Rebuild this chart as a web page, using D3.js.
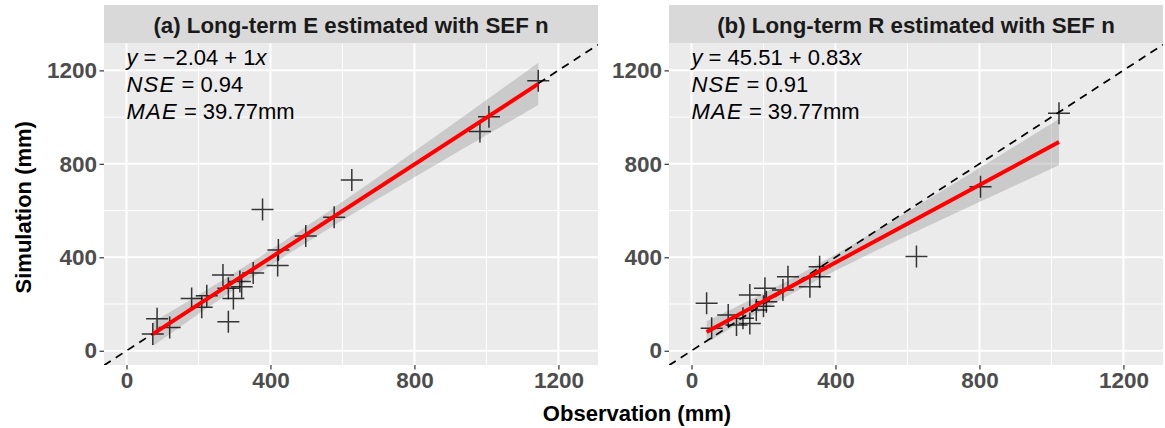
<!DOCTYPE html>
<html>
<head>
<meta charset="utf-8">
<script src="https://cdn.jsdelivr.net/npm/d3@7"></script>
<style>
  html, body { margin: 0; padding: 0; background: #fff; }
  svg { display: block; font-family: "Liberation Sans", Arial, sans-serif; }
</style>
</head>
<body>
<svg id="chart" width="1165" height="428"></svg>
<script>
// Panel titles
const panelTitles = [
  "(a) Long-term E estimated with SEF n",
  "(b) Long-term R estimated with SEF n"
];

// Panel (a): long-term E, observed vs simulated (mm)
const obsA = [73, 85, 120, 181, 209, 223, 268, 283, 297, 283, 320, 315, 352, 378, 420, 422, 498, 577, 626, 982, 1007, 1144];
const simA = [72, 137, 100, 224, 186, 235, 324, 267, 224, 124, 274, 296, 333, 605, 365, 431, 491, 571, 731, 938, 1002, 1156];

// Panel (b): long-term R, observed vs simulated (mm)
const obsB = [42, 56, 102, 125, 143, 162, 162, 180, 204, 208, 200, 254, 268, 329, 356, 356, 625, 803, 1021];
const simB = [203, 96, 153, 110, 139, 239, 117, 174, 267, 210, 190, 260, 317, 274, 317, 360, 403, 702, 1017];

// Fitted lines and goodness-of-fit statistics
const intercepts = [-2.04, 45.51];
const slopes = [1, 0.83];
const nseValues = ["0.94", "0.91"];
const maeValues = ["39.77", "39.77"];

// Axis ticks
const majorTicks = [0, 400, 800, 1200];
const minorTicks = [200, 600, 1000];

const svg = d3.select("#chart");

const panelW = 494;
const panelTop = 43.5, panelBottom = 365, stripTop = 5;
const lefts = [104, 669];
const xDomain = [-62.5, 1310];
const yDomain = [-61, 1315];
const FONT = "Liberation Sans, Arial, sans-serif";

const y = d3.scaleLinear().domain(yDomain).range([panelBottom, panelTop]);

function tQuantile975(df) {
  const z = 1.959964;
  return z + (z ** 3 + z) / (4 * df) + (5 * z ** 5 + 16 * z ** 3 + 3 * z) / (96 * df * df);
}

// 95% confidence band of the mean response around the fitted line
function confBand(obs, sim, b0, b1) {
  const n = obs.length;
  const xbar = d3.mean(obs);
  const sxx = d3.sum(obs, v => (v - xbar) ** 2);
  const sse = d3.sum(obs, (v, i) => (sim[i] - (b0 + b1 * v)) ** 2);
  const s = Math.sqrt(sse / (n - 2));
  const t = tQuantile975(n - 2);
  const [lo, hi] = d3.extent(obs);
  return d3.range(0, 81).map(k => {
    const xv = lo + (hi - lo) * k / 80;
    const fit = b0 + b1 * xv;
    const se = s * Math.sqrt(1 / n + (xv - xbar) ** 2 / sxx);
    return { x: xv, lo: fit - t * se, hi: fit + t * se };
  });
}

// math-style label built from [text, italic, letterSpacing] pieces
function mathText(parent, x0, y0, parts) {
  const t = parent.append("text").attr("x", x0).attr("y", y0)
    .attr("xml:space", "preserve").style("white-space", "pre");
  parts.forEach(([s, it, ls]) => {
    const sp = t.append("tspan").text(s);
    if (it) sp.attr("font-style", "italic");
    if (ls) sp.attr("letter-spacing", ls);
  });
  return t;
}

const panels = [
  { obs: obsA, sim: simA },
  { obs: obsB, sim: simB }
];

panels.forEach((p, i) => {
  const left = lefts[i];
  const x = d3.scaleLinear().domain(xDomain).range([left, left + panelW]);
  const g = svg.append("g");
  const clipId = "clip" + i;

  svg.append("clipPath").attr("id", clipId)
    .append("rect").attr("x", left).attr("y", panelTop)
    .attr("width", panelW).attr("height", panelBottom - panelTop);

  // strip
  g.append("rect").attr("x", left).attr("y", stripTop)
    .attr("width", panelW).attr("height", panelTop - stripTop)
    .attr("fill", "#D9D9D9");
  g.append("text")
    .attr("x", left + panelW / 2).attr("y", 32.5)
    .attr("text-anchor", "middle")
    .attr("font-size", 22.3).attr("font-weight", "bold")
    .attr("fill", "#1A1A1A")
    .text(panelTitles[i]);

  // panel background
  g.append("rect").attr("x", left).attr("y", panelTop)
    .attr("width", panelW).attr("height", panelBottom - panelTop)
    .attr("fill", "#EBEBEB");

  // grid
  const grid = g.append("g").attr("stroke", "#fff");
  minorTicks.forEach(v => {
    grid.append("line").attr("x1", x(v)).attr("x2", x(v))
      .attr("y1", panelTop).attr("y2", panelBottom).attr("stroke-width", 1);
    grid.append("line").attr("y1", y(v)).attr("y2", y(v))
      .attr("x1", left).attr("x2", left + panelW).attr("stroke-width", 1);
  });
  majorTicks.forEach(v => {
    grid.append("line").attr("x1", x(v)).attr("x2", x(v))
      .attr("y1", panelTop).attr("y2", panelBottom).attr("stroke-width", 2);
    grid.append("line").attr("y1", y(v)).attr("y2", y(v))
      .attr("x1", left).attr("x2", left + panelW).attr("stroke-width", 2);
  });

  const plot = g.append("g").attr("clip-path", `url(#${clipId})`);

  // confidence band of the fitted line
  const b0 = intercepts[i], b1 = slopes[i];
  const band = confBand(p.obs, p.sim, b0, b1);
  plot.append("path")
    .datum(band)
    .attr("d", d3.area().x(d => x(d.x)).y0(d => y(d.lo)).y1(d => y(d.hi)))
    .attr("fill", "#999999").attr("fill-opacity", 0.4);

  // observations as crosses
  const arm = 11;
  const pts = plot.append("g").attr("stroke", "#000").attr("stroke-width", 1.5)
    .attr("stroke-opacity", 0.78);
  p.obs.forEach((ov, k) => {
    const cx = x(ov), cy = y(p.sim[k]);
    pts.append("path")
      .attr("d", `M${cx - arm},${cy}H${cx + arm}M${cx},${cy - arm}V${cy + arm}`);
  });

  // 1:1 line
  plot.append("line")
    .attr("x1", x(xDomain[0])).attr("y1", y(xDomain[0]))
    .attr("x2", x(xDomain[1])).attr("y2", y(xDomain[1]))
    .attr("stroke", "#000").attr("stroke-width", 1.7)
    .attr("stroke-dasharray", "8,6");

  // fitted regression line
  const [xlo, xhi] = d3.extent(p.obs);
  plot.append("line")
    .attr("x1", x(xlo)).attr("y1", y(b0 + b1 * xlo))
    .attr("x2", x(xhi)).attr("y2", y(b0 + b1 * xhi))
    .attr("stroke", "#FF0000").attr("stroke-width", 4);

  // annotation
  const ann = g.append("g").attr("font-size", 22).attr("fill", "#000");
  const ax = x(0);
  const sign = b0 < 0 ? "\u2212" : "";
  mathText(ann, ax, 65, [
    ["y", true], [` = ${sign}${Math.abs(b0).toFixed(2)} + ${b1}`, false], ["x", true]
  ]);
  mathText(ann, ax, 91.5, [
    ["NSE", true, 1.2], [` = ${nseValues[i]}`, false]
  ]);
  mathText(ann, ax, 118.5, [
    ["MAE", true, 1.2], [` = ${maeValues[i]}mm`, false]
  ]);

  // x axis
  const xAxis = d3.axisBottom(x).tickValues(majorTicks).tickFormat(d3.format("d"))
    .tickSize(4.5).tickPadding(2.5);
  const gx = g.append("g").attr("transform", `translate(0,${panelBottom})`).call(xAxis);
  gx.select(".domain").remove();
  gx.selectAll(".tick line").attr("stroke", "#333").attr("stroke-width", 1.2);
  gx.selectAll(".tick text").attr("font-size", 22.5).attr("font-weight", "bold")
    .attr("fill", "#4D4D4D").attr("font-family", FONT);

  // y axis
  const yAxis = d3.axisLeft(y).tickValues(majorTicks).tickFormat(d3.format("d"))
    .tickSize(4.5).tickPadding(2.5);
  const gy = g.append("g").attr("transform", `translate(${left},0)`).call(yAxis);
  gy.select(".domain").remove();
  gy.selectAll(".tick line").attr("stroke", "#333").attr("stroke-width", 1.2);
  gy.selectAll(".tick text").attr("font-size", 22.5).attr("font-weight", "bold")
    .attr("fill", "#4D4D4D").attr("font-family", FONT);
});

// axis titles
svg.append("text")
  .attr("x", 637).attr("y", 421)
  .attr("text-anchor", "middle")
  .attr("font-size", 22).attr("font-weight", "bold").attr("fill", "#000")
  .text("Observation (mm)");

svg.append("text")
  .attr("transform", `translate(31,${(panelTop + panelBottom) / 2 + 3}) rotate(-90)`)
  .attr("text-anchor", "middle")
  .attr("font-size", 22).attr("font-weight", "bold").attr("fill", "#000")
  .text("Simulation (mm)");
</script>
</body>
</html>
